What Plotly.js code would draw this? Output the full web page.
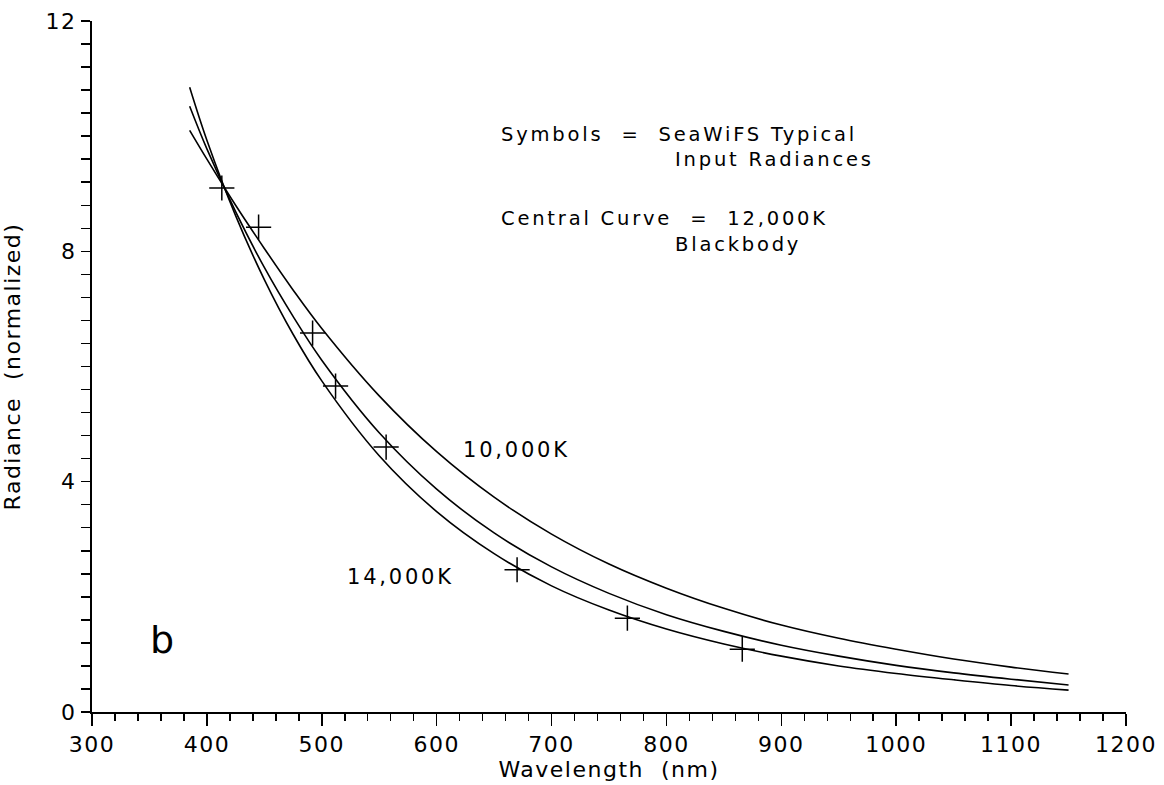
<!DOCTYPE html>
<html>
<head>
<meta charset="utf-8">
<script src="https://cdn.plot.ly/plotly-3.0.1.min.js"></script>
<style>
  html, body { margin: 0; padding: 0; background: #fff; }
  #chart { width: 1164px; height: 785px; }
  .xtick text, .ytick text { letter-spacing: 1.5px; }
  .g-xtitle text, .g-ytitle text { letter-spacing: 1.5px; }
  .annotation-text { letter-spacing: 2.8px; }
</style>
</head>
<body>
<div id="chart"></div>
<script>
const wavelengths = [385, 400, 425, 450, 475, 500, 550, 600, 650, 700, 750, 800, 850, 900, 950, 1000, 1050, 1100, 1150];
// Normalized blackbody radiance curves
const rad10000K = [10.10, 9.60, 8.80, 8.05, 7.33, 6.66, 5.49, 4.52, 3.73, 3.09, 2.57, 2.15, 1.80, 1.51, 1.28, 1.09, 0.92, 0.78, 0.66];
const rad12000K = [10.52, 9.78, 8.69, 7.72, 6.87, 6.11, 4.85, 3.87, 3.11, 2.52, 2.06, 1.69, 1.40, 1.16, 0.97, 0.81, 0.68, 0.57, 0.47];
const rad14000K = [10.85, 9.93, 8.62, 7.51, 6.56, 5.75, 4.45, 3.48, 2.75, 2.19, 1.77, 1.44, 1.18, 0.97, 0.80, 0.67, 0.56, 0.46, 0.38];
// SeaWiFS typical input radiances (symbols)
const bandWavelengths = [413, 445, 492, 512, 556, 670, 766, 866];
const bandRadiance = [9.10, 8.42, 6.58, 5.66, 4.60, 2.47, 1.63, 1.09];
// Axis ticks
const xTickVals = [300, 400, 500, 600, 700, 800, 900, 1000, 1100, 1200];
const yTickVals = [0, 4, 8, 12];

const FONT = '"DejaVu Sans", "Liberation Sans", Arial, sans-serif';
const lineStyle = { color: '#000', width: 1.6, shape: 'spline', smoothing: 1.0 };

const traces = [
  { x: wavelengths, y: rad10000K, mode: 'lines', line: lineStyle, name: '10,000K', hoverinfo: 'x+y' },
  { x: wavelengths, y: rad12000K, mode: 'lines', line: lineStyle, name: '12,000K', hoverinfo: 'x+y' },
  { x: wavelengths, y: rad14000K, mode: 'lines', line: lineStyle, name: '14,000K', hoverinfo: 'x+y' },
  { x: bandWavelengths, y: bandRadiance, mode: 'markers', name: 'SeaWiFS',
    marker: { symbol: 'cross-thin', size: 18, color: '#000', line: { color: '#000', width: 1.5 } } }
];

const annFont = { family: FONT, size: 19.5, color: '#000' };
const NB = '\u00A0';
const layout = {
  width: 1164, height: 785,
  margin: { l: 92, r: 38, t: 21, b: 73, pad: 0 },
  paper_bgcolor: '#fff', plot_bgcolor: '#fff',
  showlegend: false,
  font: { family: FONT, color: '#000' },
  xaxis: {
    range: [300, 1200], tickvals: xTickVals, ticktext: xTickVals.map(String),
    showgrid: false, zeroline: false, showline: true, linecolor: '#000', linewidth: 2,
    ticks: 'outside', ticklen: 12, tickwidth: 1.5, tickcolor: '#000',
    tickfont: { family: FONT, size: 22, color: '#000' },
    minor: { dtick: 20, tick0: 300, ticks: 'outside', ticklen: 7, tickwidth: 1.5, tickcolor: '#000', showgrid: false },
    title: { text: 'Wavelength' + NB + NB + '(nm)', font: { family: FONT, size: 22, color: '#000' }, standoff: 5 }
  },
  yaxis: {
    range: [0, 12], tickvals: yTickVals, ticktext: yTickVals.map(String),
    showgrid: false, zeroline: false, showline: true, linecolor: '#000', linewidth: 2,
    ticks: 'outside', ticklen: 9, tickwidth: 1.5, tickcolor: '#000',
    tickfont: { family: FONT, size: 22, color: '#000' },
    minor: { dtick: 0.4, tick0: 0, ticks: 'outside', ticklen: 9, tickwidth: 1.5, tickcolor: '#000', showgrid: false },
    title: { text: 'Radiance' + NB + NB + '(normalized)', font: { family: FONT, size: 22, color: '#000' }, standoff: 24 }
  },
  annotations: [
    { x: 499, y: 134, xref: 'paper', yref: 'paper', text: 'Symbols' + NB + NB + '=' + NB + NB + 'SeaWiFS' + NB + 'Typical', showarrow: false, xanchor: 'left', yanchor: 'middle', font: annFont },
    { x: 673, y: 160, xref: 'paper', yref: 'paper', text: 'Input' + NB + 'Radiances', showarrow: false, xanchor: 'left', yanchor: 'middle', font: annFont },
    { x: 499, y: 218, xref: 'paper', yref: 'paper', text: 'Central' + NB + 'Curve' + NB + NB + '=' + NB + NB + '12,000K', showarrow: false, xanchor: 'left', yanchor: 'middle', font: annFont },
    { x: 673, y: 244, xref: 'paper', yref: 'paper', text: 'Blackbody', showarrow: false, xanchor: 'left', yanchor: 'middle', font: annFont },
    { x: 516, y: 450, xref: 'paper', yref: 'paper', text: '10,000K', showarrow: false, xanchor: 'center', yanchor: 'middle', font: { family: FONT, size: 21, color: '#000' } },
    { x: 400, y: 577, xref: 'paper', yref: 'paper', text: '14,000K', showarrow: false, xanchor: 'center', yanchor: 'middle', font: { family: FONT, size: 21, color: '#000' } },
    { x: 163, y: 640, xref: 'paper', yref: 'paper', text: 'b', showarrow: false, xanchor: 'center', yanchor: 'middle', font: { family: FONT, size: 38, color: '#000' } }
  ]
};

// convert pixel-positioned annotation anchors to paper coordinates
const W = 1164, H = 785, m = layout.margin;
const pw = W - m.l - m.r, ph = H - m.t - m.b;
layout.annotations.forEach(a => {
  a.x = (a.x - m.l) / pw;
  a.y = 1 - (a.y - m.t) / ph;
});

Plotly.newPlot('chart', traces, layout, { displayModeBar: false, staticPlot: true });
</script>
</body>
</html>
